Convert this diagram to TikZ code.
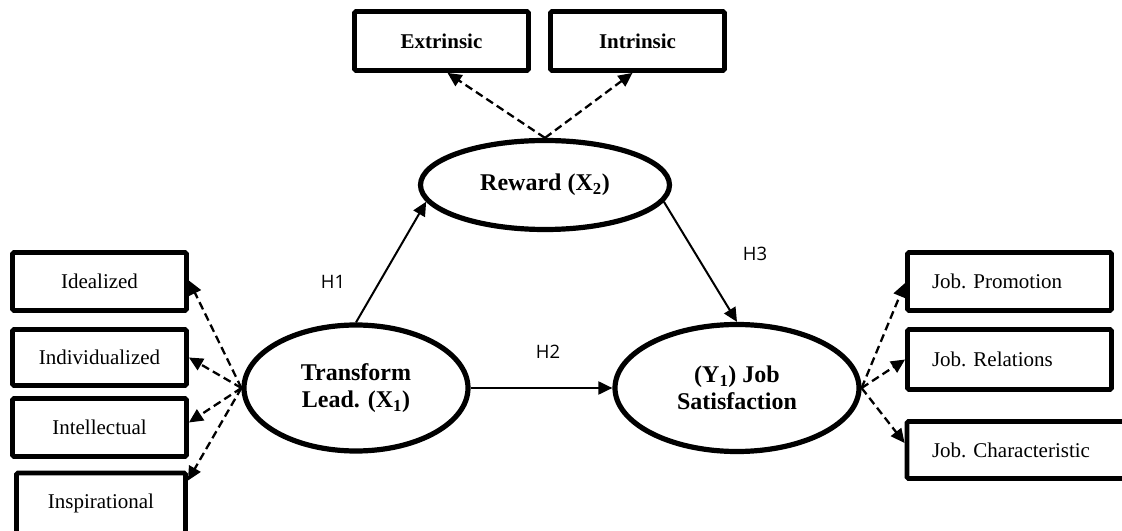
\documentclass[tikz,border=0pt]{standalone}
\usepackage{fontspec}
\setmainfont{Liberation Serif}
\newfontfamily\hfont{Open Sans}
\usetikzlibrary{arrows.meta,shapes.geometric}
\tikzset{
  ind/.style={draw, line width=4.8bp, rounded corners=1.5bp, inner sep=0pt,
    font=\fontsize{21bp}{24bp}\selectfont},
  lat/.style={draw, ellipse, line width=5.2bp, inner sep=0pt, align=center,
    font=\fontsize{24bp}{27bp}\selectfont\bfseries},
  load/.style={line width=2.3bp, dash pattern=on 8bp off 4.5bp, -{Triangle[length=14bp,width=13bp]}},
  path/.style={line width=2bp, -{Triangle[length=14bp,width=13bp]}},
  hlab/.style={font=\hfont\fontsize{18.5bp}{20bp}\selectfont, inner sep=0pt}
}
\begin{document}
\begin{tikzpicture}[x=1bp,y=-1bp]
\useasboundingbox (0,0) rectangle (1122,531);
% latent variables
\node[lat, minimum width=224bp, minimum height=126bp] (tl) at (356,388) {Transform\\Lead. (X\textsubscript{1})};
\node[lat, minimum width=244bp, minimum height=127bp] (js) at (737,388) {(Y\textsubscript{1}) Job\\Satisfaction};
\node[lat, minimum width=249bp, minimum height=89bp] (rw) at (545,185) {Reward (X\textsubscript{2})};
% reward indicators
\node[ind, minimum width=174bp, minimum height=59bp, font=\fontsize{21bp}{24bp}\selectfont\bfseries] (ext) at (441.5,41) {Extrinsic};
\node[ind, minimum width=174bp, minimum height=59bp, font=\fontsize{21bp}{24bp}\selectfont\bfseries] (intr) at (637.5,41) {Intrinsic};
% transform indicators
\node[ind, minimum width=174bp, minimum height=58bp] (ideal) at (99.5,281.5) {Idealized};
\node[ind, minimum width=174bp, minimum height=56bp] (indiv) at (99.5,357.5) {Individualized};
\node[ind, minimum width=174bp, minimum height=58bp] (intel) at (99.5,427.5) {Intellectual};
\node[ind, minimum width=169bp, minimum height=64bp] (insp) at (101,505) {\raisebox{-3bp}[0pt][0pt]{\makebox[0pt]{Inspirational}}};
% job satisfaction indicators
\node[ind, minimum width=204bp, minimum height=58bp] (prom) at (1009.5,281.5) {\makebox[155bp][l]{Job. Promotion}};
\node[ind, minimum width=204bp, minimum height=60bp] (rel) at (1009.5,359.5) {\makebox[155bp][l]{Job. Relations}};
\node[ind, minimum width=228bp, minimum height=57bp] (char) at (1021,450) {\makebox[178bp][l]{Job. Characteristic}};
% loadings
\draw[load] (rw.north) -- ([xshift=6bp]ext.south);
\draw[load] (rw.north) -- ([xshift=-5bp]intr.south);
\draw[load] (tl.west) -- ([yshift=1bp]ideal.east);
\draw[load] (tl.west) -- (indiv.east);
\draw[load] (tl.west) -- ([yshift=5bp]intel.east);
\draw[load] (tl.west) -- ([yshift=-10bp]insp.north east);
\draw[load] (js.east) -- ([yshift=-1.5bp]prom.west);
\draw[load] (js.east) -- (rel.west);
\draw[load] (js.east) -- ([yshift=7bp]char.west);
% structural paths
\draw[path] (tl.north) -- (rw.188);
\draw[path] (tl.east) -- (js.west);
\draw[path] (rw.-8) -- (js.north);
% labels
\node[hlab] (h1) at (333,282) {H1};
\node[hlab] (h2) at (548,352) {H2};
\node[hlab] (h3) at (755,254) {H3};
\end{tikzpicture}
\end{document}
